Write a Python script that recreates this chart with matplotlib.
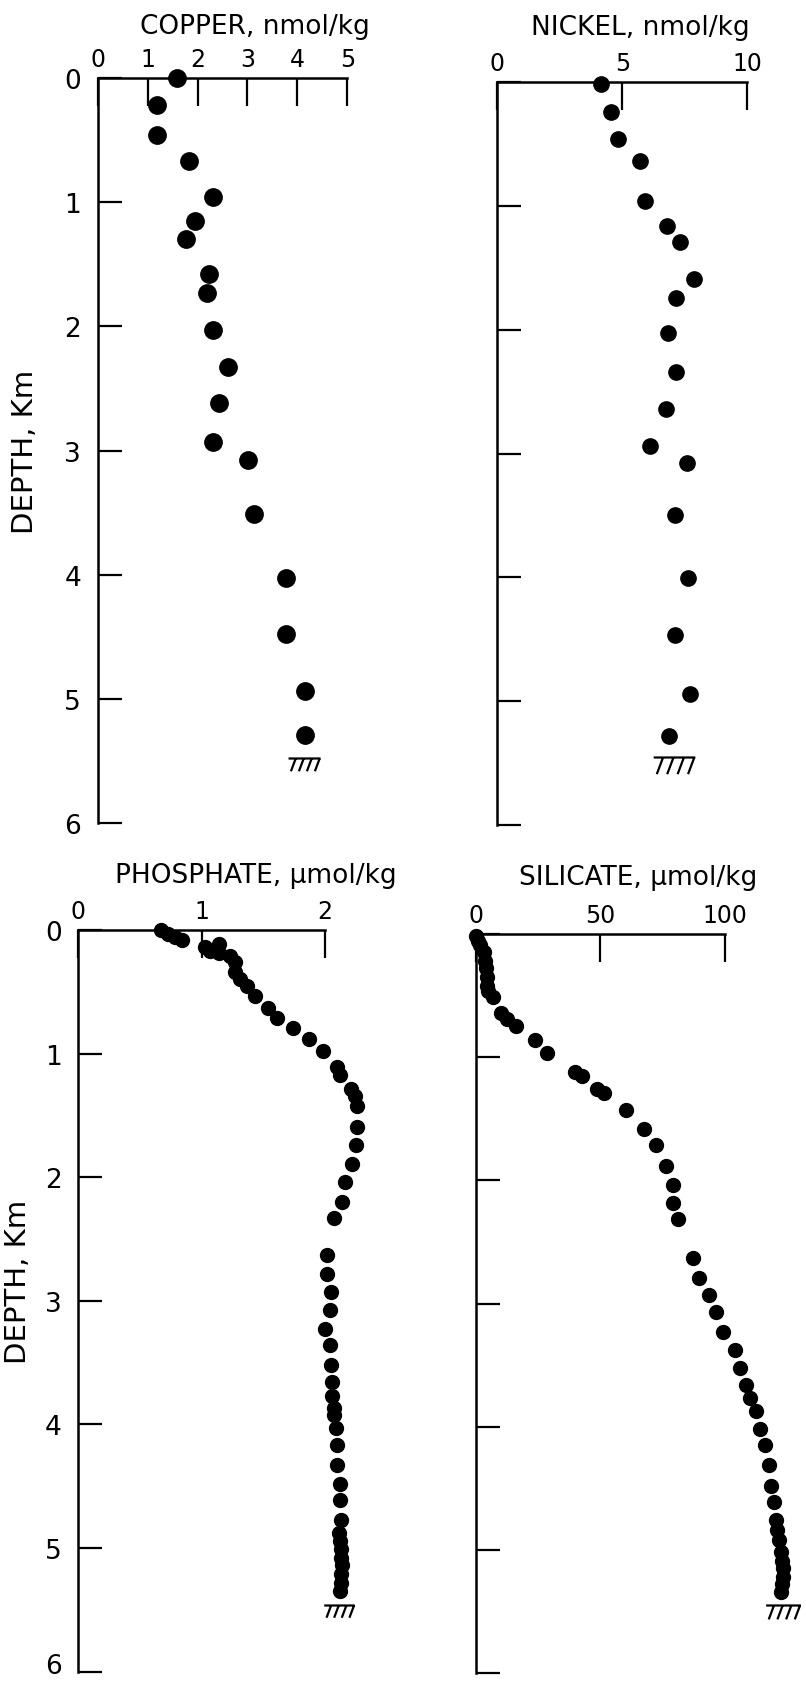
# Depth profiles: copper, nickel, phosphate, silicate
import matplotlib
matplotlib.use("Agg")
from matplotlib import pyplot as plt
from matplotlib.path import Path
from matplotlib.transforms import ScaledTranslation

# ---- data (depth in km) ----
cu_depth = [0.00, 0.22, 0.46, 0.67, 0.96, 1.15, 1.30, 1.58, 1.73, 2.03, 2.33, 2.62,
            2.93, 3.08, 3.51, 4.03, 4.48, 4.94, 5.29]
cu_value = [1.58, 1.19, 1.19, 1.83, 2.31, 1.95, 1.77, 2.22, 2.18, 2.31, 2.62, 2.42,
            2.31, 3.02, 3.14, 3.78, 3.78, 4.15, 4.15]

ni_depth = [0.01, 0.24, 0.46, 0.64, 0.96, 1.16, 1.29, 1.59, 1.74, 2.03, 2.34, 2.64,
            2.94, 3.08, 3.50, 4.01, 4.47, 4.94, 5.28]
ni_value = [4.16, 4.56, 4.83, 5.72, 5.89, 6.79, 7.29, 7.87, 7.13, 6.83, 7.16, 6.76,
            6.09, 7.57, 7.11, 7.61, 7.12, 7.69, 6.85]

po4_depth = [0.00, 0.03, 0.06, 0.08, 0.11, 0.14, 0.17, 0.19, 0.21, 0.26, 0.34, 0.40,
             0.45, 0.53, 0.63, 0.71, 0.79, 0.88, 0.98, 1.11, 1.17, 1.29, 1.34, 1.42,
             1.59, 1.74, 1.89, 2.04, 2.20, 2.33, 2.63, 2.78, 2.93, 3.07, 3.23, 3.36,
             3.52, 3.66, 3.77, 3.87, 3.92, 4.03, 4.17, 4.33, 4.48, 4.61, 4.77, 4.88,
             4.94, 5.01, 5.08, 5.14, 5.21, 5.28, 5.35]
po4_value = [0.67, 0.73, 0.78, 0.84, 1.14, 1.03, 1.07, 1.14, 1.23, 1.27, 1.27, 1.31,
             1.37, 1.43, 1.54, 1.61, 1.74, 1.87, 1.98, 2.10, 2.12, 2.21, 2.24, 2.26,
             2.26, 2.25, 2.22, 2.16, 2.14, 2.07, 2.02, 2.02, 2.05, 2.04, 2.00, 2.04,
             2.05, 2.06, 2.06, 2.07, 2.07, 2.09, 2.10, 2.10, 2.12, 2.12, 2.13, 2.11,
             2.12, 2.13, 2.13, 2.14, 2.13, 2.13, 2.12]

si_depth = [0.02, 0.06, 0.09, 0.15, 0.22, 0.28, 0.35, 0.42, 0.46, 0.51, 0.64, 0.69,
            0.75, 0.86, 0.97, 1.12, 1.15, 1.26, 1.29, 1.43, 1.58, 1.71, 1.88, 2.04,
            2.18, 2.31, 2.63, 2.79, 2.93, 3.07, 3.23, 3.38, 3.52, 3.66, 3.77, 3.87,
            4.02, 4.15, 4.31, 4.48, 4.61, 4.76, 4.84, 4.92, 5.02, 5.09, 5.15, 5.22,
            5.28, 5.34]
si_value = [0.0, 1.0, 1.7, 3.3, 3.7, 4.1, 4.4, 4.7, 5.1, 6.8, 10.0, 12.4,
            16.2, 23.8, 28.8, 39.9, 42.6, 48.6, 51.5, 60.4, 67.7, 72.3, 76.4, 79.2,
            79.4, 81.4, 87.4, 89.8, 93.8, 96.5, 99.4, 104.1, 106.1, 108.6, 110.2, 112.6,
            114.2, 116.2, 117.7, 118.5, 119.9, 120.6, 121.1, 121.9, 122.5, 122.9, 123.3, 123.4,
            123.2, 122.7]

# sea floor (value, depth)
cu_floor = [4.13, 5.48]
ni_floor = [7.07, 5.45]
po4_floor = [2.11, 5.46]
si_floor = [123.6, 5.45]

W, H = 806, 1683
fig = plt.figure(figsize=(W / 100, H / 100), dpi=100)


def px_axes(left, right, top, bottom):
    return fig.add_axes([left / W, 1 - bottom / H, (right - left) / W, (bottom - top) / H])


# sea floor symbol: line with slanted hatches below
floor_marker = Path(
    [(-1, 0), (1, 0),
     (-0.55, 0), (-0.85, -0.8), (-0.05, 0), (-0.35, -0.8),
     (0.45, 0), (0.15, -0.8), (0.95, 0), (0.65, -0.8)],
    [Path.MOVETO, Path.LINETO] * 5)

panels = [
    # box px, xmax, xticks, labels on y, data, floor, dot size, floor width
    ((97.7, 347.3, 79, 824), 5, [0, 1, 2, 3, 4, 5], True, cu_value, cu_depth, cu_floor, 12.5, 23),
    ((497.3, 747.3, 83.3, 825.7), 10, [0, 5, 10], False, ni_value, ni_depth, ni_floor, 11, 30),
    ((78.3, 325, 931, 1672.7), 2, [0, 1, 2], True, po4_value, po4_depth, po4_floor, 10, 22),
    ((475.7, 724.7, 935, 1674), 100, [0, 50, 100], False, si_value, si_depth, si_floor, 10, 25),
]

axes = []
for box, xmax, xt, ylab, xv, yv, floor, ms, fw in panels:
    ax = px_axes(*box)
    ax.set_xlim(0, xmax)
    ax.set_ylim(6, 0)
    ax.plot(xv, yv, "o", color="black", markersize=ms, clip_on=False, zorder=3)
    ax.plot([floor[0]], [floor[1]], linestyle="none", marker=floor_marker, markersize=fw,
            markerfacecolor="none", markeredgecolor="black", markeredgewidth=1.6, clip_on=False)
    for side in ["right", "bottom"]:
        ax.spines[side].set_visible(False)
    for side in ["left", "top"]:
        ax.spines[side].set_linewidth(1.8)
    ax.xaxis.tick_top()
    ax.set_xticks(xt)
    ax.set_yticks(range(7))
    ax.tick_params(axis="x", direction="in", length=20, width=1.6, pad=5, labelsize=17)
    ax.tick_params(axis="y", direction="in", length=17, width=1.6, pad=12, labelsize=19,
                   labelleft=ylab)
    axes.append(ax)

# bottom "6" of the lower panel sits a little higher, as in the original
lab6 = axes[2].yaxis.get_major_ticks()[-1].label1
lab6.set_transform(lab6.get_transform() + ScaledTranslation(0, 6 / 72, fig.dpi_scale_trans))

# titles
fig.text(255 / W, 1 - 27 / H, "COPPER, nmol/kg", ha="center", va="center", fontsize=19)
fig.text(640 / W, 1 - 28 / H, "NICKEL, nmol/kg", ha="center", va="center", fontsize=19)
fig.text(256 / W, 1 - 876 / H, "PHOSPHATE, \u03bcmol/kg", ha="center", va="center", fontsize=19)
fig.text(638 / W, 1 - 878 / H, "SILICATE, \u03bcmol/kg", ha="center", va="center", fontsize=19)

fig.text(25 / W, 1 - 452 / H, "DEPTH, Km", rotation=90, ha="center", va="center", fontsize=21)
fig.text(18 / W, 1 - 1282 / H, "DEPTH, Km", rotation=90, ha="center", va="center", fontsize=21)

fig.savefig("out.png", dpi=100)
